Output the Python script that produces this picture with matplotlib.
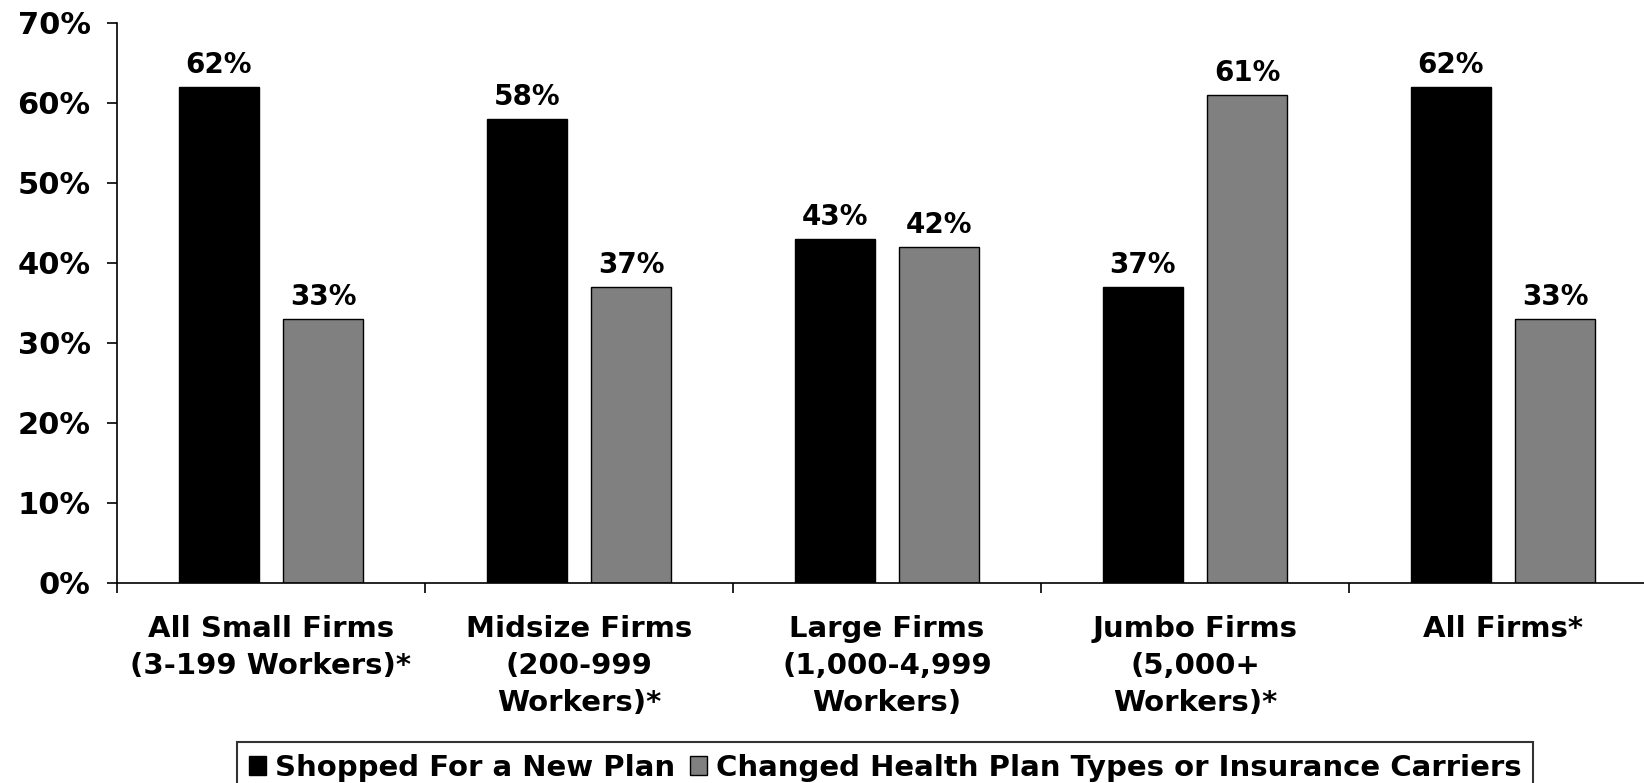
import matplotlib
matplotlib.use("Agg")
import matplotlib.pyplot as plt
from matplotlib.patches import Patch
import numpy as np

categories = [
    "All Small Firms\n(3-199 Workers)*",
    "Midsize Firms\n(200-999\nWorkers)*",
    "Large Firms\n(1,000-4,999\nWorkers)",
    "Jumbo Firms\n(5,000+\nWorkers)*",
    "All Firms*",
]
shopped = [62, 58, 43, 37, 62]
changed = [33, 37, 42, 61, 33]
series_names = ["Shopped For a New Plan",
                "Changed Health Plan Types or Insurance Carriers"]
yticks = [0, 10, 20, 30, 40, 50, 60, 70]

plt.rcParams['font.family'] = 'DejaVu Sans'
plt.rcParams['font.weight'] = 'bold'

fig = plt.figure(figsize=(16.44, 7.83), dpi=100)
ax = fig.add_axes([117 / 1644, 200 / 783, 1540 / 1644, 560 / 783])

x = np.arange(len(categories))
w = 0.26
off = 0.17
b1 = ax.bar(x - off, shopped, w, color='black', edgecolor='black', linewidth=1)
b2 = ax.bar(x + off, changed, w, color='#808080', edgecolor='black', linewidth=1)

# value labels above each bar
for bars, vals in ((b1, shopped), (b2, changed)):
    for r, v in zip(bars, vals):
        ax.text(r.get_x() + r.get_width() / 2, v + 1.0, f"{v}%",
                ha='center', va='bottom', fontsize=20, fontweight='bold')

ax.set_xlim(-0.5, 4.5)
ax.set_ylim(0, 70)
ax.set_yticks(yticks)
ax.set_yticklabels([f"{t}%" for t in yticks], fontsize=22, fontweight='bold')
ax.set_xticks(x)
ax.set_xticklabels(categories, fontsize=21, fontweight='bold', linespacing=1.4)
ax.set_xticks(np.arange(-0.5, 5, 1), minor=True)
ax.tick_params(axis='x', which='major', length=0, pad=23)
ax.tick_params(axis='x', which='minor', length=7, width=1.2, direction='out')
ax.tick_params(axis='y', length=7, width=1.2, direction='out', pad=12)

for s in ('top', 'right'):
    ax.spines[s].set_visible(False)
for s in ('left', 'bottom'):
    ax.spines[s].set_linewidth(1.2)

handles = [Patch(facecolor='black', edgecolor='black'),
           Patch(facecolor='#808080', edgecolor='black')]
leg = fig.legend(handles, series_names, loc='upper center',
                 bbox_to_anchor=(885 / 1644, 1 - 742 / 783), ncol=2,
                 fontsize=21, frameon=True, fancybox=False, edgecolor='black',
                 handlelength=0.6, handleheight=0.6, handletextpad=0.3,
                 columnspacing=0.5, borderpad=0.4, borderaxespad=0)
leg.get_frame().set_linewidth(1.5)
for t in leg.get_texts():
    t.set_fontweight('bold')

fig.savefig("out.png", dpi=100)
